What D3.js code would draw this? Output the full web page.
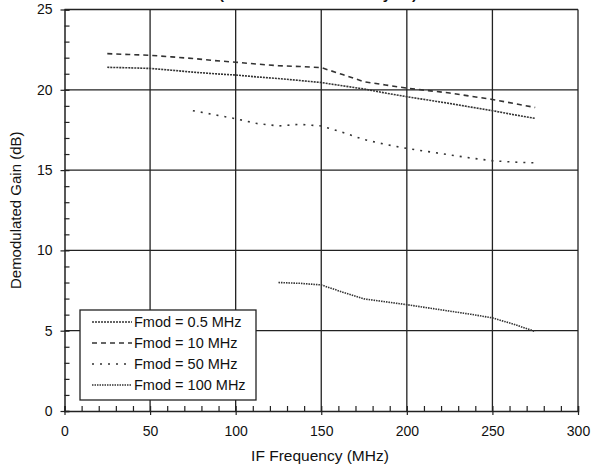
<!DOCTYPE html>
<html>
<head>
<meta charset="utf-8">
<script src="https://cdn.jsdelivr.net/npm/d3@7"></script>
<style>
  body { margin: 0; background: #fff; }
  svg text { font-family: "Liberation Sans", Arial, sans-serif; fill: #111; }
</style>
</head>
<body>
<svg id="chart" width="594" height="470"></svg>
<script>
// data
const fmod05X = [25, 37.5, 50, 62.5, 75, 87.5, 100, 112.5, 125, 137.5, 150, 162.5, 175, 187.5, 200, 212.5, 225, 237.5, 250, 262.5, 275];
const fmod05Y = [21.4, 21.37, 21.33, 21.22, 21.1, 21.0, 20.92, 20.8, 20.7, 20.58, 20.45, 20.25, 20.05, 19.8, 19.57, 19.36, 19.15, 18.92, 18.7, 18.45, 18.22];

const fmod10X = [25, 37.5, 50, 62.5, 75, 87.5, 100, 112.5, 125, 137.5, 150, 162.5, 175, 187.5, 200, 212.5, 225, 237.5, 250, 262.5, 275];
const fmod10Y = [22.25, 22.2, 22.15, 22.05, 21.95, 21.82, 21.72, 21.6, 21.5, 21.45, 21.38, 20.95, 20.5, 20.3, 20.1, 19.95, 19.8, 19.6, 19.4, 19.15, 18.9];

const fmod50X = [75, 87.5, 100, 112.5, 125, 137.5, 150, 162.5, 175, 187.5, 200, 212.5, 225, 237.5, 250, 262.5, 275];
const fmod50Y = [18.7, 18.45, 18.2, 17.9, 17.75, 17.85, 17.75, 17.35, 16.9, 16.6, 16.35, 16.15, 15.95, 15.75, 15.58, 15.5, 15.45];

const fmod100X = [125, 137.5, 150, 162.5, 175, 187.5, 200, 212.5, 225, 237.5, 250, 262.5, 275];
const fmod100Y = [8.0, 7.95, 7.85, 7.4, 6.98, 6.8, 6.62, 6.42, 6.22, 6.02, 5.8, 5.4, 4.95];

const seriesNames = ["Fmod = 0.5 MHz", "Fmod = 10 MHz", "Fmod = 50 MHz", "Fmod = 100 MHz"];
const seriesDash = ["2,1", "5,4", "2,6", "1.5,1"];

const xTicks = [0, 50, 100, 150, 200, 250, 300];
const yTicks = [0, 5, 10, 15, 20, 25];

const svg = d3.select("#chart");
const margin = { left: 64.5, right: 16, top: 9.5, bottom: 59 };
const W = 594, H = 470;

const x = d3.scaleLinear().domain([0, 300]).range([margin.left, W - margin.right]);
const y = d3.scaleLinear().domain([0, 25]).range([H - margin.bottom, margin.top]);

const ink = "#222";

// title, cut off by the top edge like in the reference
svg.append("text")
  .attr("x", 318).attr("y", -1)
  .attr("text-anchor", "middle")
  .style("font-size", "15px").style("font-weight", "bold")
  .text("(Demodulator Assembly #1)");

// grid
svg.append("g").selectAll("line").data(xTicks.slice(1)).join("line")
  .attr("x1", d => x(d)).attr("x2", d => x(d))
  .attr("y1", y(0)).attr("y2", y(25))
  .attr("stroke", ink).attr("stroke-width", 1.3);
svg.append("g").selectAll("line").data(yTicks.slice(1)).join("line")
  .attr("x1", x(0)).attr("x2", x(300))
  .attr("y1", d => y(d)).attr("y2", d => y(d))
  .attr("stroke", ink).attr("stroke-width", 1.3);

// axes with inward minor ticks
const xAxis = svg.append("g").attr("transform", `translate(0,${y(0)})`);
xAxis.call(d3.axisBottom(x).tickValues(d3.range(0, 301, 10)).tickSize(-5).tickFormat(""));
xAxis.append("g").call(d3.axisBottom(x).tickValues(xTicks).tickSize(4).tickPadding(11))
  .call(g => g.select(".domain").remove());
xAxis.selectAll("line").attr("stroke", ink).attr("stroke-width", 1.2);
xAxis.select(".domain").attr("stroke", ink).attr("stroke-width", 1.5);
xAxis.selectAll("text").style("font-size", "14px").attr("fill", "#111");

const yAxis = svg.append("g").attr("transform", `translate(${x(0)},0)`);
yAxis.call(d3.axisLeft(y).tickValues(d3.range(0, 26, 1)).tickSize(-5).tickFormat(""));
yAxis.append("g").call(d3.axisLeft(y).tickValues(yTicks).tickSize(4).tickPadding(8))
  .call(g => g.select(".domain").remove());
yAxis.selectAll("line").attr("stroke", ink).attr("stroke-width", 1.2);
yAxis.select(".domain").attr("stroke", ink).attr("stroke-width", 1.5);
yAxis.selectAll("text").style("font-size", "14px").attr("fill", "#111");

// axis titles
svg.append("text")
  .attr("x", 320).attr("y", 461)
  .attr("text-anchor", "middle")
  .style("font-size", "15.5px")
  .text("IF Frequency (MHz)");
svg.append("text")
  .attr("transform", `translate(21,${(y(0) + y(25)) / 2}) rotate(-90)`)
  .attr("text-anchor", "middle")
  .style("font-size", "15px")
  .text("Demodulated Gain (dB)");

// series
const allX = [fmod05X, fmod10X, fmod50X, fmod100X];
const allY = [fmod05Y, fmod10Y, fmod50Y, fmod100Y];
const line = d3.line().x(d => x(d[0])).y(d => y(d[1]));

allX.forEach((xs, i) => {
  const pts = xs.map((v, j) => [v, allY[i][j]]);
  svg.append("path")
    .datum(pts)
    .attr("fill", "none")
    .attr("stroke", "#333")
    .attr("stroke-width", 1.6)
    .attr("stroke-dasharray", seriesDash[i])
    .attr("d", line);
});

// legend
const lg = svg.append("g").attr("transform", "translate(80,310)");
lg.append("rect")
  .attr("width", 176).attr("height", 90)
  .attr("fill", "#fff").attr("stroke", ink).attr("stroke-width", 1.3);
seriesNames.forEach((name, i) => {
  const yy = 12 + i * 21;
  lg.append("line")
    .attr("x1", 12).attr("x2", 52).attr("y1", yy).attr("y2", yy)
    .attr("stroke", "#333").attr("stroke-width", 1.6)
    .attr("stroke-dasharray", seriesDash[i]);
  lg.append("text")
    .attr("x", 54).attr("y", yy + 5)
    .style("font-size", "14.5px")
    .text(name);
});
</script>
</body>
</html>
